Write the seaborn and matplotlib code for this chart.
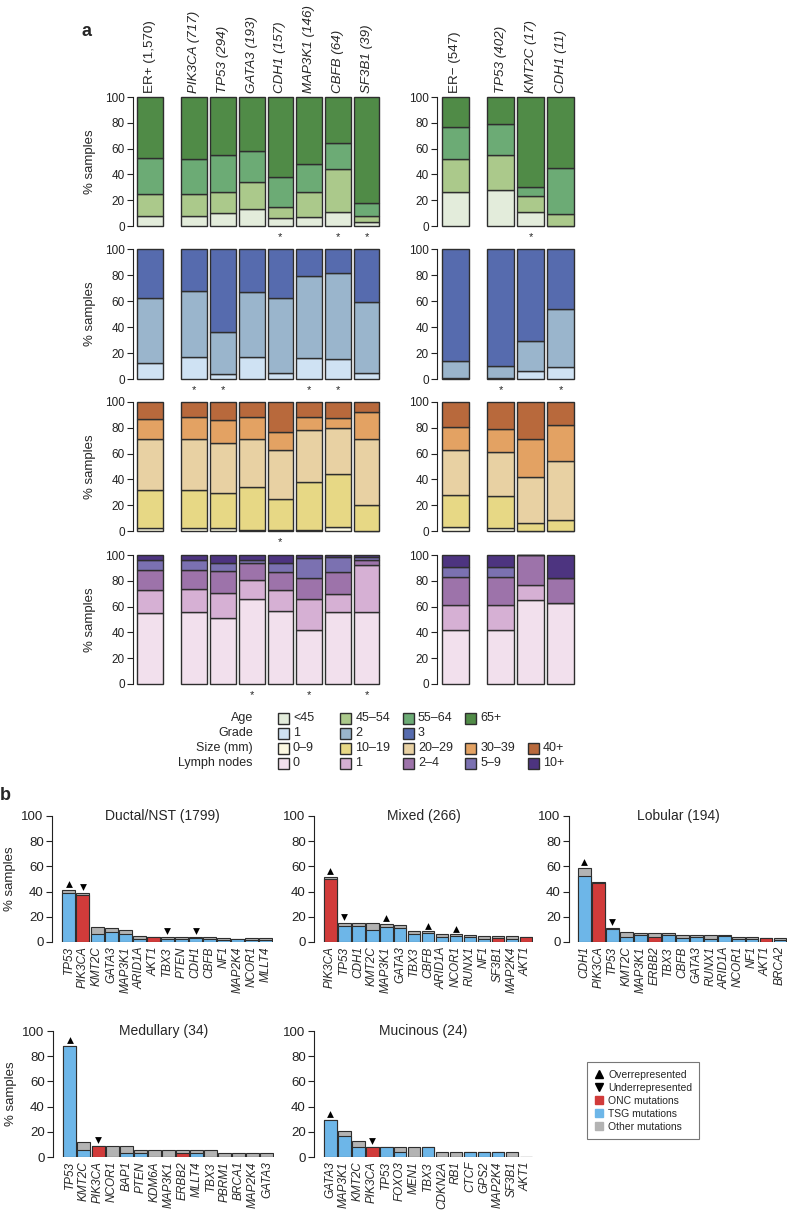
import numpy as np
import pandas as pd
import matplotlib
matplotlib.use("Agg")
import matplotlib.pyplot as plt
import seaborn as sns
from matplotlib.patches import Rectangle
from matplotlib.lines import Line2D

# -------------------------
# Panel a data (segment sizes, % samples, bottom -> top)
# -------------------------
left_labels = ["ER+ (1,570)", "PIK3CA (717)", "TP53 (294)", "GATA3 (193)",
               "CDH1 (157)", "MAP3K1 (146)", "CBFB (64)", "SF3B1 (39)"]
right_labels = ["ER\u2212 (547)", "TP53 (402)", "KMT2C (17)", "CDH1 (11)"]

age_levels = ["<45", "45\u201354", "55\u201364", "65+"]
grade_levels = ["1", "2", "3"]
size_levels = ["0\u20139", "10\u201319", "20\u201329", "30\u201339", "40+"]
lymph_levels = ["0", "1", "2\u20134", "5\u20139", "10+"]

# columns: ER+, PIK3CA, TP53, GATA3, CDH1, MAP3K1, CBFB, SF3B1
age_left = np.array([
    [8, 8, 10, 13, 6, 7, 11, 3],
    [17, 17, 16, 21, 9, 19, 33, 5],
    [28, 27, 29, 24, 23, 22, 20, 10],
    [47, 48, 45, 42, 62, 52, 36, 82],
])
# columns: ER-, TP53, KMT2C, CDH1
age_right = np.array([
    [26, 28, 11, 0],
    [26, 27, 12, 9],
    [25, 24, 7, 36],
    [23, 21, 70, 55],
])
grade_left = np.array([
    [12, 17, 3.5, 17, 5, 16, 15.5, 5],
    [50, 51, 32.5, 50, 57, 63, 66, 54],
    [38, 32, 64, 33, 38, 21, 18.5, 41],
])
grade_right = np.array([
    [1, 0.5, 6, 9],
    [13, 9.5, 23, 45],
    [86, 90, 71, 46],
])
size_left = np.array([
    [2, 2, 2, 1, 1, 0.5, 3, 0],
    [30, 30, 27.5, 33, 24, 37.5, 41, 20],
    [39, 39, 38.5, 37, 38, 40, 36, 51.5],
    [16, 17, 18, 17, 14, 10, 7.5, 21],
    [13, 12, 14, 12, 23, 12, 12.5, 7.5],
])
size_right = np.array([
    [3, 2, 0, 0],
    [25, 25, 6, 8.5],
    [35, 34, 36, 46],
    [17.5, 18, 29, 27.5],
    [19.5, 21, 29, 18],
])
lymph_left = np.array([
    [55, 56, 51, 66, 56.5, 42, 56, 56],
    [18, 17.5, 19.5, 15, 16.5, 24, 14, 36],
    [15.5, 15, 17, 12.5, 13.5, 16, 17, 4],
    [7.5, 8, 6.5, 2.5, 7.5, 16, 11.5, 2.7],
    [4, 3.5, 6, 4, 6, 2, 1.5, 1.3],
])
lymph_right = np.array([
    [42, 42, 65, 63],
    [19, 19, 11.7, 0],
    [22, 22.3, 23.3, 19],
    [8, 7.7, 0, 0],
    [9, 9, 0, 18],
])

# significance stars below bars
stars_left = [
    [0, 0, 0, 0, 1, 0, 1, 1],
    [0, 1, 1, 0, 0, 1, 1, 0],
    [0, 0, 0, 0, 1, 0, 0, 0],
    [0, 0, 0, 1, 0, 1, 0, 1],
]
stars_right = [
    [0, 0, 1, 0],
    [0, 1, 0, 1],
    [0, 0, 0, 0],
    [0, 0, 0, 0],
]

age_colors = ["#e3ecdb", "#abc98b", "#6cab75", "#508b47"]
grade_colors = ["#cfe2f3", "#9ab5cc", "#566bae"]
size_colors = ["#fcf9e2", "#e7d885", "#e8d1a3", "#e3a263", "#b8693c"]
lymph_colors = ["#f2e0ed", "#d6b0d4", "#9d73aa", "#7b71b1", "#4d3480"]

# -------------------------
# Panel b data (% samples)
# -------------------------
onc_genes = ["PIK3CA", "AKT1", "ERBB2", "SF3B1"]

ductal_genes = ["TP53", "PIK3CA", "KMT2C", "GATA3", "MAP3K1", "ARID1A", "AKT1", "TBX3",
                "PTEN", "CDH1", "CBFB", "NF1", "MAP2K4", "NCOR1", "MLLT4"]
ductal_total = [41.5, 39, 12, 11, 9.8, 4.8, 4, 4, 4, 4, 3.7, 3.4, 2.7, 3, 3]
ductal_driver = [38.5, 37, 6, 8, 6.6, 2.7, 4, 2.7, 2.7, 3.4, 2, 1.9, 2, 1.3, 1.3]
ductal_marks = ["up", "down", "", "", "", "", "", "down", "", "down", "", "", "", "", ""]

mixed_genes = ["PIK3CA", "TP53", "CDH1", "KMT2C", "MAP3K1", "GATA3", "TBX3", "CBFB",
               "ARID1A", "NCOR1", "RUNX1", "NF1", "SF3B1", "MAP2K4", "AKT1"]
mixed_total = [51.8, 15, 15, 15, 14.5, 13.7, 8.7, 8.4, 6.6, 6, 5.8, 4.5, 4.5, 4.5, 3.9]
mixed_driver = [50, 12.9, 13, 9.2, 11.8, 11.3, 6, 7.1, 4, 4.5, 3.7, 2.6, 3.2, 2, 3.9]
mixed_marks = ["up", "down", "", "", "up", "", "", "up", "", "up", "", "", "", "", ""]

lobular_genes = ["CDH1", "PIK3CA", "TP53", "KMT2C", "MAP3K1", "ERBB2", "TBX3", "CBFB",
                 "GATA3", "RUNX1", "ARID1A", "NCOR1", "NF1", "AKT1", "BRCA2"]
lobular_total = [59, 48, 11, 7.9, 7.4, 7.4, 7.4, 5.8, 5.3, 5.3, 5.3, 4, 4, 3.2, 3.2]
lobular_driver = [52.6, 46.6, 10.3, 4, 5.3, 4, 5.3, 3.4, 4, 2.6, 4.7, 2.4, 2.6, 3.2, 1.3]
lobular_marks = ["up", "", "down", "", "", "", "", "", "", "", "", "", "", "", ""]

medullary_genes = ["TP53", "KMT2C", "PIK3CA", "NCOR1", "BAP1", "PTEN", "KDM6A", "MAP3K1",
                   "ERBB2", "MLLT4", "TBX3", "PBRM1", "BRCA1", "MAP2K4", "GATA3"]
medullary_total = [88.2, 11.8, 8.8, 8.8, 8.8, 5.9, 5.9, 5.9, 5.9, 5.9, 5.9, 2.9, 2.9, 2.9, 2.9]
medullary_driver = [88.2, 5.9, 8.8, 0, 2.9, 2.9, 0, 0, 2.9, 2.9, 0, 0, 0, 0, 0]
medullary_marks = ["up", "", "down", "", "", "", "", "", "", "", "", "", "", "", ""]

mucinous_genes = ["GATA3", "MAP3K1", "KMT2C", "PIK3CA", "TP53", "FOXO3", "MEN1", "TBX3",
                  "CDKN2A", "RB1", "CTCF", "GPS2", "MAP2K4", "SF3B1", "AKT1"]
mucinous_total = [29.2, 20.8, 12.5, 8.3, 8.3, 8.3, 8.3, 8.3, 4.2, 4.2, 4.2, 4.2, 4.2, 4.2, 0]
mucinous_driver = [29.2, 16.7, 8.3, 8.3, 8.3, 4.2, 0, 8.3, 0, 0, 4.2, 4.2, 4.2, 0, 0]
mucinous_marks = ["up", "", "", "down", "", "", "", "", "", "", "", "", "", "", ""]

ONC_RED = "#d13b3a"
TSG_BLUE = "#6db6e8"
OTHER_GREY = "#b3b3b3"
EDGE = "#2e2e2e"

# =========================
# Setup
# =========================
sns.set_theme(style="ticks")
plt.rcParams["font.family"] = ["Liberation Sans", "DejaVu Sans"]
plt.rcParams["font.size"] = 8.5
plt.rcParams["axes.linewidth"] = 0.8

W, H = 788, 1219
fig = plt.figure(figsize=(W / 100, H / 100), dpi=100)


def px_axes(x0, y0, x1, y1):
    return fig.add_axes([x0 / W, 1 - y1 / H, (x1 - x0) / W, (y1 - y0) / H])


def style_yaxis(ax, size=8.5):
    for s in ["top", "right", "bottom"]:
        ax.spines[s].set_visible(False)
    ax.spines["left"].set_color("#222222")
    ax.set_xticks([])
    ax.set_ylim(0, 100)
    ax.set_yticks([0, 20, 40, 60, 80, 100])
    ax.tick_params(axis="y", length=4, width=0.8, pad=2, labelsize=size, colors="#222222")


# =========================
# Panel a
# =========================
rows_y = [(97, 226), (249, 379), (402, 531), (555, 684)]
data_rows = [(age_left, age_right, age_colors), (grade_left, grade_right, grade_colors),
             (size_left, size_right, size_colors), (lymph_left, lymph_right, lymph_colors)]
left_pos = np.array([0] + [1.55 + i for i in range(7)])
right_pos = np.array([0] + [1.53 + i for i in range(3)])


def stacked(ax, pos, segs, colors, stars):
    bottom = np.zeros(segs.shape[1])
    for k in range(segs.shape[0]):
        ax.bar(pos, segs[k], bottom=bottom, width=0.9, color=colors[k],
               edgecolor=EDGE, linewidth=1.0, clip_on=False)
        bottom = bottom + segs[k]
    for p, s in zip(pos, stars):
        if s:
            ax.text(p, -8.5, "*", ha="center", va="center", fontsize=8, clip_on=False)


for r, ((y0, y1), (dl, dr, cols)) in enumerate(zip(rows_y, data_rows)):
    axl = px_axes(133, y0, 380, y1)
    axr = px_axes(437, y0, 575, y1)
    stacked(axl, left_pos, dl, cols, stars_left[r])
    stacked(axr, right_pos, dr, cols, stars_right[r])
    axl.set_xlim(-0.59, 8.02)
    axr.set_xlim(-0.6, 4.0)
    style_yaxis(axl)
    style_yaxis(axr)
    axl.text(-0.175, 0.5, "% samples", transform=axl.transAxes, rotation=90,
             ha="center", va="center", fontsize=9.5)
    if r == 0:
        for ax, pos, labs in [(axl, left_pos, left_labels), (axr, right_pos, right_labels)]:
            for i, (p, lab) in enumerate(zip(pos, labs)):
                ax.annotate(lab, xy=(p, 1), xycoords=("data", "axes fraction"),
                            xytext=(0, 3), textcoords="offset points", rotation=90,
                            ha="center", va="bottom", fontsize=9.6,
                            style="normal" if i == 0 else "italic")

# overlay for free text / legend (pixel coordinates)
ov = fig.add_axes([0, 0, 1, 1], zorder=-1)
ov.set_xlim(0, W)
ov.set_ylim(H, 0)
ov.axis("off")
ov.text(87, 32, "a", fontsize=13, fontweight="bold", ha="center", va="center")
ov.text(5, 796, "b", fontsize=13, fontweight="bold", ha="center", va="center")

leg_rows = [("Age", age_levels, age_colors), ("Grade", grade_levels, grade_colors),
            ("Size (mm)", size_levels, size_colors), ("Lymph nodes", lymph_levels, lymph_colors)]
for j, (name, levels, cols) in enumerate(leg_rows):
    yy = 718 + 15 * j
    ov.text(253, yy, name, ha="right", va="center", fontsize=9)
    for k, (lev, c) in enumerate(zip(levels, cols)):
        xx = 278 + 62.5 * k
        ov.add_patch(Rectangle((xx, yy - 5.5), 11, 11, facecolor=c, edgecolor=EDGE, linewidth=1.0))
        ov.text(xx + 15, yy, lev, ha="left", va="center", fontsize=9)

# =========================
# Panel b
# =========================
panels_b = [
    ("Ductal/NST (1799)", ductal_genes, ductal_total, ductal_driver, ductal_marks, (52, 816, 273, 942), -1.2, True),
    ("Mixed (266)", mixed_genes, mixed_total, mixed_driver, mixed_marks, (314, 816, 533, 942), -1.15, False),
    ("Lobular (194)", lobular_genes, lobular_total, lobular_driver, lobular_marks, (569, 816, 787, 942), -1.1, False),
    ("Medullary (34)", medullary_genes, medullary_total, medullary_driver, medullary_marks, (53, 1031, 274, 1157), -1.2, True),
    ("Mucinous (24)", mucinous_genes, mucinous_total, mucinous_driver, mucinous_marks, (314, 1031, 533, 1157), -1.15, False),
]

for title, genes, total, driver, marks, box, xmin, ylab in panels_b:
    ax = px_axes(*box)
    df = pd.DataFrame({
        "gene": genes,
        "total": total,
        "driver": driver,
        "kind": ["ONC" if g in onc_genes else "TSG" for g in genes],
    })
    sns.barplot(data=df, x="gene", y="total", order=genes, color=OTHER_GREY, width=0.92,
                edgecolor=EDGE, linewidth=0.8, saturation=1, ax=ax)
    sns.barplot(data=df, x="gene", y="driver", order=genes, hue="kind",
                palette={"ONC": ONC_RED, "TSG": TSG_BLUE}, dodge=False, width=0.92,
                edgecolor=EDGE, linewidth=0.8, saturation=1, legend=False, ax=ax)
    for i, (t, m) in enumerate(zip(total, marks)):
        if m:
            ax.scatter(i, t + 4.6, marker="^" if m == "up" else "v", s=24,
                       color="black", linewidths=0, clip_on=False, zorder=5)
    style_yaxis(ax, size=9.5)
    ax.set_xlim(xmin, 14.5)
    ax.set_xlabel("")
    ax.set_ylabel("")
    ax.set_xticks(range(len(genes)))
    ax.set_xticklabels(genes, rotation=90, style="italic", fontsize=8.5)
    ax.tick_params(axis="x", length=0, pad=3)
    ax.text(0.5, 1.0, title, transform=ax.transAxes, ha="center", va="center", fontsize=10)
    if ylab:
        ax.text(-0.19, 0.5, "% samples", transform=ax.transAxes, rotation=90,
                ha="center", va="center", fontsize=9.5)

handles = [
    Line2D([], [], marker="^", color="black", linestyle="none", markersize=5.5),
    Line2D([], [], marker="v", color="black", linestyle="none", markersize=5.5),
    Line2D([], [], marker="s", color=ONC_RED, linestyle="none", markersize=6),
    Line2D([], [], marker="s", color=TSG_BLUE, linestyle="none", markersize=6),
    Line2D([], [], marker="s", color=OTHER_GREY, linestyle="none", markersize=6),
]
labels = ["Overrepresented", "Underrepresented", "ONC mutations", "TSG mutations", "Other mutations"]
leg = fig.legend(handles, labels, loc="upper left", bbox_to_anchor=(582 / W, 1 - 1057 / H),
                 frameon=True, fancybox=False, edgecolor="#555555", fontsize=7.5,
                 handlelength=0.8, handletextpad=0.5, labelspacing=0.3, borderpad=0.7)
leg.get_frame().set_linewidth(0.8)

fig.savefig("out.png", dpi=100)
